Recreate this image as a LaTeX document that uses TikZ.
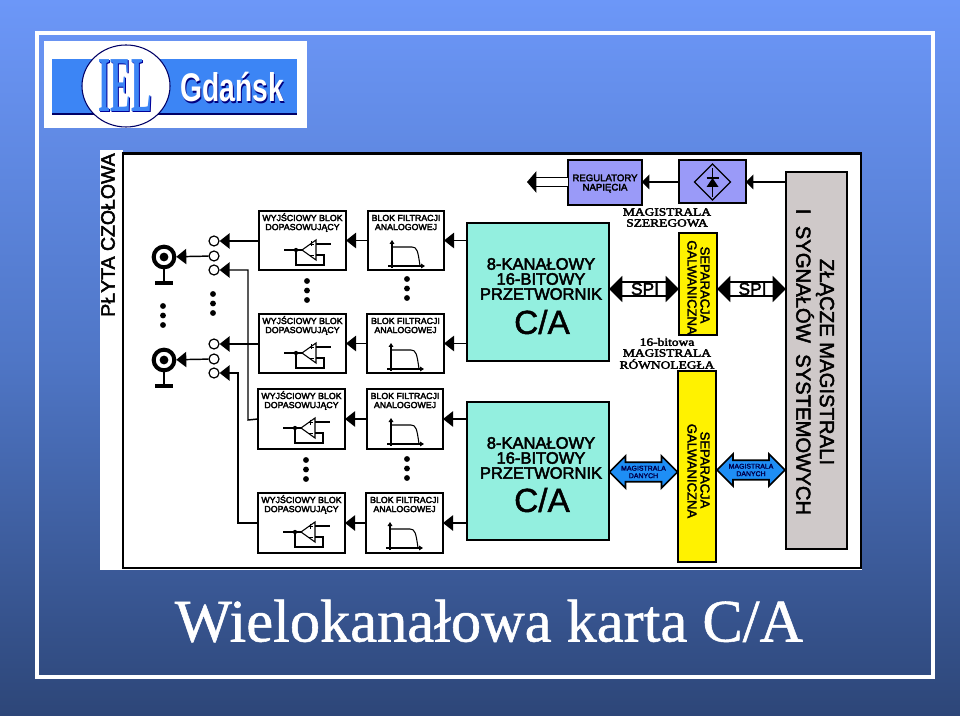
\documentclass[tikz,border=0pt]{standalone}
\usepackage{fontspec}
\setmainfont{Liberation Sans}
\newfontfamily\serifb{Liberation Serif}
\newcommand{\fat}[2][0.22]{\leavevmode\special{pdf:code q 2 Tr #1 w}#2\special{pdf:code Q}}
\usetikzlibrary{arrows.meta,shapes.arrows,fit,calc}
\definecolor{bgtop}{HTML}{6C97F8}
\definecolor{bgmid}{HTML}{4F76C6}
\definecolor{bgbot}{HTML}{2D4678}
\definecolor{adc}{HTML}{93EFDF}
\definecolor{violet}{HTML}{9A9AF8}
\definecolor{grayc}{HTML}{CFC9C9}
\definecolor{busblue}{HTML}{1E8EF5}
\definecolor{logoblue}{HTML}{3C85F5}
\tikzset{
  x=0.75pt,y=-0.75pt,
  blockbox/.style={draw=black,line width=1.5pt,fill=white,inner sep=0pt,outer sep=0pt},
  tinylabel/.style={font=\fontsize{6.6}{6.8}\selectfont,align=center,inner sep=0pt},
  conn/.style={draw=black,line width=1.1pt,-{Triangle[length=7.5pt,width=11.5pt]}},
  plainwire/.style={draw=black,line width=1.1pt},
  icon/.style={draw=black,line width=0.8pt},
  smallpin/.style={circle,draw=black,line width=0.9pt,fill=white,inner sep=0pt,minimum size=7.5pt},
  jack/.style={circle,draw=black,line width=3pt,fill=white,inner sep=0pt,minimum size=15.5pt},
  spiarrow/.style={draw=black,line width=1pt,double=white,double distance=9.5pt,{Triangle[length=10pt,width=19.5pt]}-{Triangle[length=10pt,width=19.5pt]}},
  busarrow/.style={double arrow,draw=black,line width=1.3pt,fill=busblue,double arrow head extend=3.4pt,inner sep=0pt,outer sep=0pt,minimum width=24pt,minimum height=51pt,font=\fontsize{5.2}{5.6}\selectfont,text=black!70!blue,align=center},
  adcline/.style={font=\fontsize{12.4}{12.6}\selectfont,inner sep=0pt},
  serlabel/.style={font=\serifb\fontsize{8.4}{9}\selectfont,inner sep=0pt,xscale=1.2},
  sepbox/.style={blockbox,fill=yellow},
  seplabel/.style={rotate=-90,font=\fontsize{9.8}{10}\selectfont,inner sep=0pt}
}
\newcommand{\outblock}[6]{% id x1 y1 x2 y2 unused
  \node[blockbox,fit={(#2,#3)(#4,#5)}] (#1) {};
  \node[tinylabel] (#1t) at ($(#1.north)+(0,11.5)$) {\fat{WYJŚCIOWY BLOK\\DOPASOWUJĄCY}};
  \begin{scope}[shift={(#2,#3)}]
    \draw[icon,fill=white] (43,39) -- (57,29) -- (57,49) -- cycle;
    \draw[icon] (25,39) -- (43,39) (57,33) -- (72,33) (37,39) -- (37,54) -- (65,54) -- (65,44) -- (57,44);
    \fill (37,39) circle (1.6pt);
    \draw[icon,line width=0.5pt] (50,33) -- (55,33) (52.5,30.5) -- (52.5,35.5) (50,44) -- (55,44);
  \end{scope}}
\newcommand{\filtblock}[5]{%
  \node[blockbox,fit={(#2,#3)(#4,#5)}] (#1) {};
  \node[tinylabel] (#1t) at ($(#1.north)+(0,11.5)$) {\fat{BLOK FILTRACJI\\ANALOGOWEJ}};
  \begin{scope}[shift={(#2,#3)}]
    \draw[icon,-{Triangle[length=3pt,width=3.5pt]}] (24,57) -- (24,29);
    \draw[icon,-{Triangle[length=3pt,width=3.5pt]}] (20,55) -- (57,55);
    \draw[icon] (24,36) -- (44,36) .. controls (49,36) and (50,40) .. (52,55);
  \end{scope}}
\newcommand{\vdotsrow}[2]{%
  \fill (#1,#2) circle (2.2pt) (#1,#2+9.5) circle (2.2pt) (#1,#2+19) circle (2.2pt);}
\begin{document}
\begin{tikzpicture}[x=0.75pt,y=-0.75pt]
\useasboundingbox (0,0) rectangle (960,716);
\shade[top color=bgtop,bottom color=bgbot,middle color=bgmid] (0,0) rectangle (960,716);
\draw[white,line width=3pt] (37,33) rectangle (933,677);
% logo
\fill[white] (44,41) rectangle (307,128);
\fill[logoblue] (52,59) rectangle (297,115);
\fill[blue!40!black] (52,113.5) rectangle (297,115.5);
\draw[blue!40!black,line width=0.8pt,fill=white] (126,86) ellipse (44 and 41);
\node[inner sep=0pt,text=blue!60!black,yscale=2.05,xscale=0.8,font=\serifb\bfseries\fontsize{29}{29}\selectfont] (logoshade) at (126.5,87) {IEL};
\node[inner sep=0pt,text=logoblue,yscale=2.05,xscale=0.8,font=\serifb\bfseries\fontsize{29}{29}\selectfont] (logoiel) at (125.5,86) {IEL};
\node[inner sep=0pt,text=blue!50!black,xscale=0.85,yscale=1.2,font=\bfseries\fontsize{25}{25}\selectfont] (logoshadow) at (233,89) {Gdańsk};
\node[inner sep=0pt,text=white,xscale=0.85,yscale=1.2,font=\bfseries\fontsize{25}{25}\selectfont] (logogd) at (232,87.5) {Gdańsk};
% panel
\fill[white] (100,150) rectangle (123,570);
\fill[white] (123,153) rectangle (862,570);
\draw[black,line width=2.2pt] (123,153.5) -- (861,153.5) -- (861,568) -- (123,568) -- cycle;
\node[rotate=90,inner sep=0pt,font=\fontsize{14.6}{15}\selectfont] (front) at (108,235) {\fat[0.35]{PŁYTA CZOŁOWA}};
% blocks
\outblock{b1}{259}{211}{346}{270}{}
\outblock{b2}{259}{314}{346}{373}{}
\outblock{b3}{258}{389}{345}{449}{}
\outblock{b4}{258}{493}{345}{553}{}
\filtblock{f1}{368}{211}{444}{270}
\filtblock{f2}{367}{314}{444}{373}
\filtblock{f3}{367}{389}{443}{449}
\filtblock{f4}{366}{493}{443}{553}
\vdotsrow{307}{281}
\vdotsrow{407}{279}
\vdotsrow{306}{460}
\vdotsrow{407}{459}
\vdotsrow{213}{294}
\vdotsrow{163}{306}
% ADC
\node[blockbox,fill=adc,fit={(467,223)(609,361)}] (a1) {};
\node[blockbox,fill=adc,fit={(467,402)(609,540)}] (a2) {};
\node[adcline] (a1l1) at (541,264) {\fat[0.35]{8-KANAŁOWY}};
\node[adcline] (a1l2) at (541,279) {\fat[0.35]{16-BITOWY}};
\node[adcline] (a1l3) at (541,294) {\fat[0.35]{PRZETWORNIK}};
\node[inner sep=0pt,font=\fontsize{25}{25}\selectfont] (a1l4) at (542,322) {\fat[0.35]{C/A}};
\node[adcline] (a2l1) at (541,443) {\fat[0.35]{8-KANAŁOWY}};
\node[adcline] (a2l2) at (541,458) {\fat[0.35]{16-BITOWY}};
\node[adcline] (a2l3) at (541,473) {\fat[0.35]{PRZETWORNIK}};
\node[inner sep=0pt,font=\fontsize{25}{25}\selectfont] (a2l4) at (542,500) {\fat[0.35]{C/A}};
% filter links
\foreach \i in {1,2,3,4} {
  \draw[conn] (a\ifnum\i<3 1\else 2\fi.west |- f\i) -- (f\i.east);
  \draw[conn] (f\i.west) -- (b\i.east);
}
% pins and jacks
\node[smallpin] (p1a) at (214,241) {};
\node[smallpin] (p1b) at (214,256) {};
\node[smallpin] (p1c) at (214,270) {};
\node[smallpin] (p2a) at (214,344) {};
\node[smallpin] (p2b) at (214,359) {};
\node[smallpin] (p2c) at (214,373) {};
\node[jack] (j1) at (164,257) {};
\node[jack] (j2) at (164,360) {};
\fill (164,257) circle (3.3pt) (164,360) circle (3.3pt);
\coordinate (g1) at (164,283);
\coordinate (g2) at (164,386);
\draw[plainwire] (j1) -- (g1) (j2) -- (g2);
\draw[black,line width=2.6pt] ($(g1)+(-9,0)$) -- ($(g1)+(9,0)$) ($(g2)+(-9,0)$) -- ($(g2)+(9,0)$);
\draw[conn] (b1.west |- p1a) -- (p1a);
\draw[conn] (b2.west |- p2a) -- (p2a);
\draw[conn] (p1b) -- (j1);
\draw[conn] (p2b) -- (j2);
\draw[conn] (b3.west) -- (248,420) -- (248,270) -- (p1c);
\draw[conn] (b4.west) -- (238,523) -- (238,373) -- (p2c);
% top row
\node[blockbox,fill=violet,fit={(568,160)(642,205)}] (reg) {};
\node[inner sep=0pt,align=center,font=\fontsize{7.2}{7}\selectfont] (regt) at (605,183.5) {\fat{REGULATORY\\NAPIĘCIA}};
\node[blockbox,fill=violet,fit={(679,160)(746,203)}] (rect) {};
\begin{scope}[shift={(712.5,182)}]
  \draw[black,line width=1pt] (-18,0) -- (0,-18) -- (18,0) -- (0,18) -- cycle;
  \fill (-6,5) -- (6,5) -- (0,-4) -- cycle;
  \draw[black,line width=0.8pt] (0,-14) -- (0,15) (-6,-4) -- (6,-4);
\end{scope}
\coordinate (regout) at (527,182);
\draw[draw=black,line width=0.9pt,double=white,double distance=6pt,{Triangle[length=7pt,width=16pt]}-] (regout) -- (reg.west |- regout);
\draw[conn,-{Triangle[length=5.5pt,width=11pt]}] (rect.west |- 0,182) -- (reg.east |- 0,182);
\node[blockbox,fill=grayc,fit={(786,172)(847,549)}] (zl) {};
\draw[conn,-{Triangle[length=5.5pt,width=11pt]}] (zl.west |- 0,182) -- (rect.east |- 0,182);
\node[rotate=-90,inner sep=0pt,font=\fontsize{15.2}{15}\selectfont] (zl1) at (825,362) {\fat[0.35]{ZŁĄCZE MAGISTRALI}};
\node[rotate=-90,inner sep=0pt,font=\fontsize{15.2}{15}\selectfont] (zl2) at (805,362) {\fat[0.35]{I\ \ SYGNAŁÓW\ \ SYSTEMOWYCH}};
% serial labels
\node[serlabel] (m1) at (667,212) {\fat[0.25]{MAGISTRALA}};
\node[serlabel] (m2) at (667,223) {\fat[0.25]{SZEREGOWA}};
\node[serlabel] (m3) at (667,342) {\fat[0.25]{16-bitowa}};
\node[serlabel] (m4) at (667,353) {\fat[0.25]{MAGISTRALA}};
\node[serlabel] (m5) at (667,364) {\fat[0.25]{RÓWNOLEGŁA}};
% isolation
\node[sepbox,fit={(679,233)(717,335)}] (s1) {};
\node[sepbox,fit={(678,371)(716,562)}] (s2) {};
\node[seplabel] (s1a) at (705,285) {\fat{SEPARACJA}};
\node[seplabel] (s1b) at (692,287.5) {\fat{GALWANICZNA}};
\node[seplabel] (s2a) at (705,470) {\fat{SEPARACJA}};
\node[seplabel] (s2b) at (692,471) {\fat{GALWANICZNA}};
% SPI
\coordinate (spiy) at (0,289);
\draw[spiarrow] (a1.east |- spiy) -- (s1.west |- spiy);
\draw[spiarrow] (s1.east |- spiy) -- (zl.west |- spiy);
\node[inner sep=0pt,font=\fontsize{13}{13}\selectfont] (spi1) at (645,289) {\fat[0.3]{SPI}};
\node[inner sep=0pt,font=\fontsize{13}{13}\selectfont] (spi2) at (752.5,289) {\fat[0.3]{SPI}};
% data buses
\node[busarrow] (d1) at (643.5,472) {\fat[0.12]{MAGISTRALA\\DANYCH}};
\node[busarrow] (d2) at (751,470) {\fat[0.12]{MAGISTRALA\\DANYCH}};
% title
\node[inner sep=0pt,text=white,font=\serifb\fontsize{45.3}{46}\selectfont] (title) at (489,621) {\fat[0.4]{Wielokanałowa karta C/A}};
\end{tikzpicture}
\end{document}
